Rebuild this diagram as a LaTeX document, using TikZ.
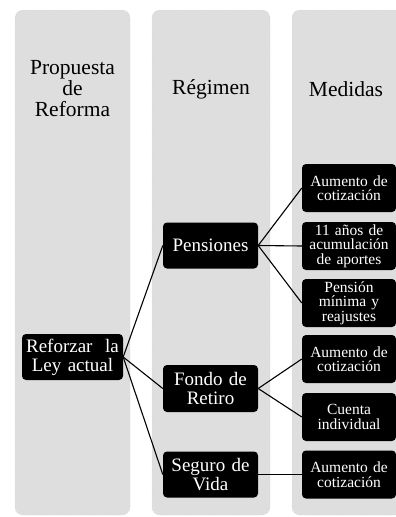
\documentclass[tikz,border=0pt]{standalone}
\usepackage{fontspec}
\setmainfont{Liberation Serif}
\begin{document}
\begin{tikzpicture}[x=1pt,y=-1pt,
  col/.style={fill=black!13, draw=black!30, dotted, rounded corners=8pt},
  hdr/.style={align=center, font=\fontsize{21.5}{21}\selectfont, inner sep=0pt},
  rbox/.style={fill=black, text=white, rounded corners=4pt, align=center, inner sep=0pt,
    font=\fontsize{19}{19}\selectfont, minimum width=95pt, minimum height=46pt, text width=93pt},
  mbox/.style={fill=black, text=white, rounded corners=4pt, align=center, inner sep=0pt,
    font=\fontsize{15.5}{14.5}\selectfont, minimum width=94pt, minimum height=48pt, text width=90pt},
  conn/.style={line width=1.1pt, black}
]
\useasboundingbox (0,0) rectangle (396,517);
\fill[white] (0,0) rectangle (396,517);
% columns
\path[col] (15,10) rectangle (130,515);
\path[col] (152,10) rectangle (270,515);
\path[col] (292,10) rectangle (404,515);
% headers
\node[hdr] (h1) at (72.5,89) {Propuesta\\de\\Reforma};
\node[hdr] (h2) at (211,89) {Régimen};
\node[hdr] (h3) at (346,89) {Medidas};
% root
\node[rbox, minimum width=101pt, text width=99pt] (ref) at (72.5,357) {Reforzar\ \ la\\Ley actual};
% regimen
\node[rbox] (pen) at (210.5,245.5) {Pensiones};
\node[rbox, minimum height=47pt] (fon) at (210.5,388.5) {Fondo de\\Retiro};
\node[rbox] (seg) at (210.5,474.5) {Seguro de\\Vida};
% medidas
\node[mbox] (m1) at (349,188) {Aumento de\\cotización};
\node[mbox] (m2) at (349,246) {11 años de\\acumulación\\de aportes};
\node[mbox] (m3) at (349,303) {Pensión\\mínima y\\reajustes};
\node[mbox] (m4) at (349,359) {Aumento de\\cotización};
\node[mbox] (m5) at (349,417) {Cuenta\\individual};
\node[mbox] (m6) at (349,474.5) {Aumento de\\cotización};
% connectors
\draw[conn] (ref.east) -- (pen.west);
\draw[conn] (ref.east) -- (fon.west);
\draw[conn] (ref.east) -- (seg.west);
\draw[conn] (pen.east) -- (m1.west);
\draw[conn] (pen.east) -- (m2.west);
\draw[conn] (pen.east) -- (m3.west);
\draw[conn] (fon.east) -- (m4.west);
\draw[conn] (fon.east) -- (m5.west);
\draw[conn] (seg.east) -- (m6.west);
\end{tikzpicture}
\end{document}
